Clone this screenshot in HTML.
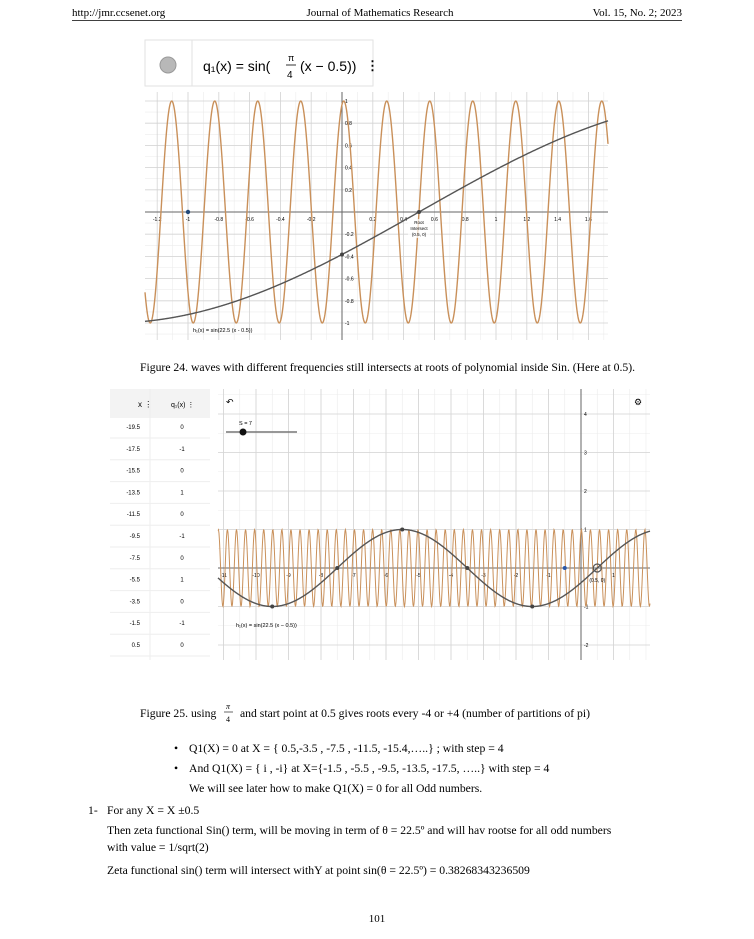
<!DOCTYPE html>
<html><head><meta charset="utf-8"><style>
html,body{margin:0;padding:0;background:#fff}
svg{display:block}
text{font-family:"Liberation Serif",serif;fill:#000}
.s{font-family:"Liberation Sans",sans-serif}
</style></head><body>
<svg id="pg" width="754" height="939" viewBox="0 0 754 939">
<text x="72" y="16" font-size="11">http://jmr.ccsenet.org</text>
<text x="380" y="16" font-size="11" text-anchor="middle">Journal of Mathematics Research</text>
<text x="682" y="16" font-size="11" text-anchor="end">Vol. 15, No. 2; 2023</text>
<line x1="72" y1="20.5" x2="682" y2="20.5" stroke="#000" stroke-width="0.8"/>

<g>
<rect x="145" y="40" width="228" height="46" fill="#fff" stroke="#e2e2e2"/>
<line x1="192" y1="40" x2="192" y2="86" stroke="#e2e2e2"/>
<circle cx="168" cy="65" r="8" fill="#b8b8b8" stroke="#999"/>
<text x="203" y="71" class="s" font-size="14" fill="#333">q₁(x) = sin(</text>
<text x="288" y="61" class="s" font-size="9">π</text>
<line x1="286" y1="65" x2="296" y2="65" stroke="#333"/>
<text x="287" y="78" class="s" font-size="10">4</text>
<text x="300" y="71" class="s" font-size="14" fill="#333">(x − 0.5))</text>
<text x="366" y="70" class="s" font-size="13" font-weight="bold" fill="#333">⋮</text>
<g id="g1"></g>
</g>
<text x="140" y="371" font-size="11.7">Figure 24. waves with different frequencies still intersects at roots of polynomial inside Sin. (Here at 0.5).</text>

<g>
<rect x="110" y="389" width="100" height="29" fill="#f3f3f3"/>
<text x="138" y="407" font-size="8" class="s">x ⋮</text>
<text x="171" y="407" font-size="7" class="s">q₁(x) ⋮</text>
<line x1="150" y1="389" x2="150" y2="660" stroke="#eee"/>
<g id="tbl"></g>
<rect x="218" y="389" width="432" height="271" fill="#fff"/>
<g id="g2"></g>
</g>
<text x="140" y="717" font-size="11.7">Figure 25. using</text>
<text x="226" y="709" font-size="8" font-style="italic">π</text>
<line x1="224" y1="712" x2="233" y2="712" stroke="#000" stroke-width="0.6"/>
<text x="226" y="722" font-size="8">4</text>
<text x="240" y="717" font-size="11.7">and start point at 0.5 gives roots every -4 or +4 (number of partitions of pi)</text>

<g font-size="11.7">
<text x="174" y="752">•</text>
<text x="189" y="752">Q1(X) = 0 at X = { 0.5,-3.5 , -7.5 , -11.5, -15.4,…..} ; with step = 4</text>
<text x="174" y="772">•</text>
<text x="189" y="772">And Q1(X) = { i , -i} at X={-1.5 , -5.5 , -9.5, -13.5, -17.5, …..} with step = 4</text>
<text x="189" y="792">We will see later how to make Q1(X) = 0 for all Odd numbers.</text>
<text x="88" y="814">1-</text>
<text x="107" y="814">For any X = X ±0.5</text>
<text x="107" y="834">Then zeta functional Sin() term, will be moving in term of θ = 22.5º and will hav rootse for all odd numbers</text>
<text x="107" y="851">with value = 1/sqrt(2)</text>
<text x="107" y="874">Zeta functional sin() term will intersect withY at point sin(θ = 22.5º) = 0.38268343236509</text>
<text x="377" y="922" text-anchor="middle" font-size="11">101</text>
</g>
</svg>
<script>
const fastFreq = [22.5];
const slowFreq = [Math.PI/4];
const shiftVals = [0.5];
const f1XTicks = [-1.2,-1,-0.8,-0.6,-0.4,-0.2,0,0.2,0.4,0.6,0.8,1,1.2,1.4,1.6];
const f1YTicks = [-1,-0.8,-0.6,-0.4,-0.2,0.2,0.4,0.6,0.8,1];
const f2XTicks = [-11,-10,-9,-8,-7,-6,-5,-4,-3,-2,-1,0,1];
const f2YTicks = [-2,-1,1,2,3,4];
const tableX = [-19.5,-17.5,-15.5,-13.5,-11.5,-9.5,-7.5,-5.5,-3.5,-1.5,0.5];
const tableQ = [0,-1,0,1,0,-1,0,1,0,-1,0];
const f2Points = [-9.5,-7.5,-5.5,-3.5,-1.5];

const NS="http://www.w3.org/2000/svg";
function mk(p,t,a){const e=document.createElementNS(NS,t);for(const k in a)e.setAttribute(k,a[k]);p.appendChild(e);return e;}

function plot(g,o){
  const sx=x=>o.x0+x*o.kx, sy=y=>o.y0-y*o.ky;
  const xmin=(o.L-o.x0)/o.kx, xmax=(o.R-o.x0)/o.kx;
  for(let v=Math.ceil(xmin/o.minor)*o.minor;v<=xmax;v+=o.minor){
    const l=mk(g,'line',{x1:sx(v),x2:sx(v),y1:o.T,y2:o.B,stroke:'#ececec','stroke-width':0.6});
    
    
  }
  const ymin=(o.y0-o.B)/o.ky, ymax=(o.y0-o.T)/o.ky;
  for(let v=Math.ceil(ymin/o.minorY)*o.minorY;v<=ymax;v+=o.minorY){
    const l=mk(g,'line',{x1:o.L,x2:o.R,y1:sy(v),y2:sy(v),stroke:'#ececec','stroke-width':0.6});
    
    
  }
  o.xt.forEach(v=>{
    const l=mk(g,'line',{x1:sx(v),x2:sx(v),y1:o.T,y2:o.B,stroke:'#d4d4d4','stroke-width':0.8});
    
    
    if(v!==0){const t=mk(g,'text',{x:sx(v),y:o.y0+9,'font-size':5,'text-anchor':'middle',fill:'#777',class:'s'});t.textContent=v;
    
    }
  });
  o.yt.forEach(v=>{
    const l=mk(g,'line',{x1:o.L,x2:o.R,y1:sy(v),y2:sy(v),stroke:'#d4d4d4','stroke-width':0.8});
    
    
    const t=mk(g,'text',{x:o.x0+3,y:sy(v)+2,'font-size':5,fill:'#777',class:'s'});t.textContent=v;
    
    
  });
  const ax=mk(g,'line',{x1:o.L,x2:o.R,y1:o.y0,y2:o.y0,stroke:'#666','stroke-width':1});
  
  
  const ay=mk(g,'line',{x1:o.x0,x2:o.x0,y1:o.T,y2:o.B,stroke:'#666','stroke-width':1});
  
  
  function curve(freq,shift,col,w,name){
    let d='';for(let px=o.L;px<=o.R;px+=0.5){const x=(px-o.x0)/o.kx;d+=(d?'L':'M')+px.toFixed(1)+' '+sy(Math.sin(freq*(x-shift))).toFixed(2);}
    const p=mk(g,'path',{d:d,fill:'none',stroke:col,'stroke-width':w});
    
    
  }
  curve(fastFreq[0],shiftVals[0],'#c9905a',o.wf,'h1-fast-sine');
  curve(slowFreq[0],shiftVals[0],'#555',1.4,'q1-slow-sine');
  return {sx,sy};
}

const g1=document.getElementById('g1');
const o1={L:145,R:608,T:92,B:340,x0:342,y0:212,kx:154,ky:111,minor:0.1,minorY:0.1,xt:f1XTicks,yt:f1YTicks,wf:1.4};
const a1=plot(g1,o1);
let c=mk(g1,'circle',{cx:a1.sx(0),cy:a1.sy(Math.sin(slowFreq[0]*(0-shiftVals[0]))),r:2,fill:'#444'});


c=mk(g1,'circle',{cx:a1.sx(shiftVals[0]),cy:a1.sy(0),r:2,fill:'#444'});


c=mk(g1,'circle',{cx:a1.sx(-1),cy:a1.sy(0),r:2.2,fill:'#234a7a'});


let r=mk(g1,'rect',{x:a1.sx(0.5)-11,y:219,width:22,height:19,fill:'#fff','fill-opacity':0.7});


['Root','Intersect','(0.5, 0)'].forEach((s,i)=>{const t=mk(g1,'text',{x:a1.sx(0.5),y:224+i*6,'font-size':4.5,'text-anchor':'middle',fill:'#555',class:'s'});t.textContent=s;

});
let t=mk(g1,'text',{x:193,y:332,'font-size':5.5,fill:'#c9905a',class:'s'});t.textContent='h₁(x) = sin(22.5 (x - 0.5))';



const tbl=document.getElementById('tbl');
tableX.forEach((v,i)=>{
  const y=427+i*21.8;
  const a=mk(tbl,'text',{x:140,y:y+2,'font-size':6,'text-anchor':'end',fill:'#888',class:'s'});a.textContent=v;
  
  
  const b=mk(tbl,'text',{x:182,y:y+2,'font-size':6,'text-anchor':'middle',fill:'#888',class:'s'});b.textContent=tableQ[i];
  
  
  const l=mk(tbl,'line',{x1:110,x2:210,y1:y+11,y2:y+11,stroke:'#eee'});
  
  
});

const g2=document.getElementById('g2');
const o2={L:218,R:650,T:389,B:660,x0:581,y0:568,kx:32.5,ky:38.5,minor:0.5,minorY:0.5,xt:f2XTicks,yt:f2YTicks,wf:1};
const a2=plot(g2,o2);
f2Points.forEach(x=>{const p=mk(g2,'circle',{cx:a2.sx(x),cy:a2.sy(Math.sin(slowFreq[0]*(x-shiftVals[0]))),r:2,fill:'#444'});

});
c=mk(g2,'circle',{cx:a2.sx(shiftVals[0]),cy:a2.sy(0),r:4,fill:'none',stroke:'#555','stroke-width':1.2});


c=mk(g2,'circle',{cx:a2.sx(-0.5),cy:a2.sy(0),r:2,fill:'#2a57a8'});


t=mk(g2,'text',{x:a2.sx(0.5),y:582,'font-size':5,'text-anchor':'middle',fill:'#555',class:'s'});t.textContent='(0.5, 0)';


let l=mk(g2,'line',{x1:226,x2:297,y1:432,y2:432,stroke:'#777','stroke-width':1.5});


c=mk(g2,'circle',{cx:243,cy:432,r:3.5,fill:'#111'});


t=mk(g2,'text',{x:239,y:425,'font-size':5.5,fill:'#555',class:'s'});t.textContent='S = 7';


t=mk(g2,'text',{x:226,y:405,'font-size':9,fill:'#555',class:'s'});t.textContent='↶';


t=mk(g2,'text',{x:638,y:405,'font-size':9,'text-anchor':'middle',fill:'#555',class:'s'});t.textContent='⚙';


t=mk(g2,'text',{x:236,y:627,'font-size':5.5,fill:'#c9905a',class:'s'});t.textContent='h₁(x) = sin(22.5 (x − 0.5))';


</script>
</body></html>
